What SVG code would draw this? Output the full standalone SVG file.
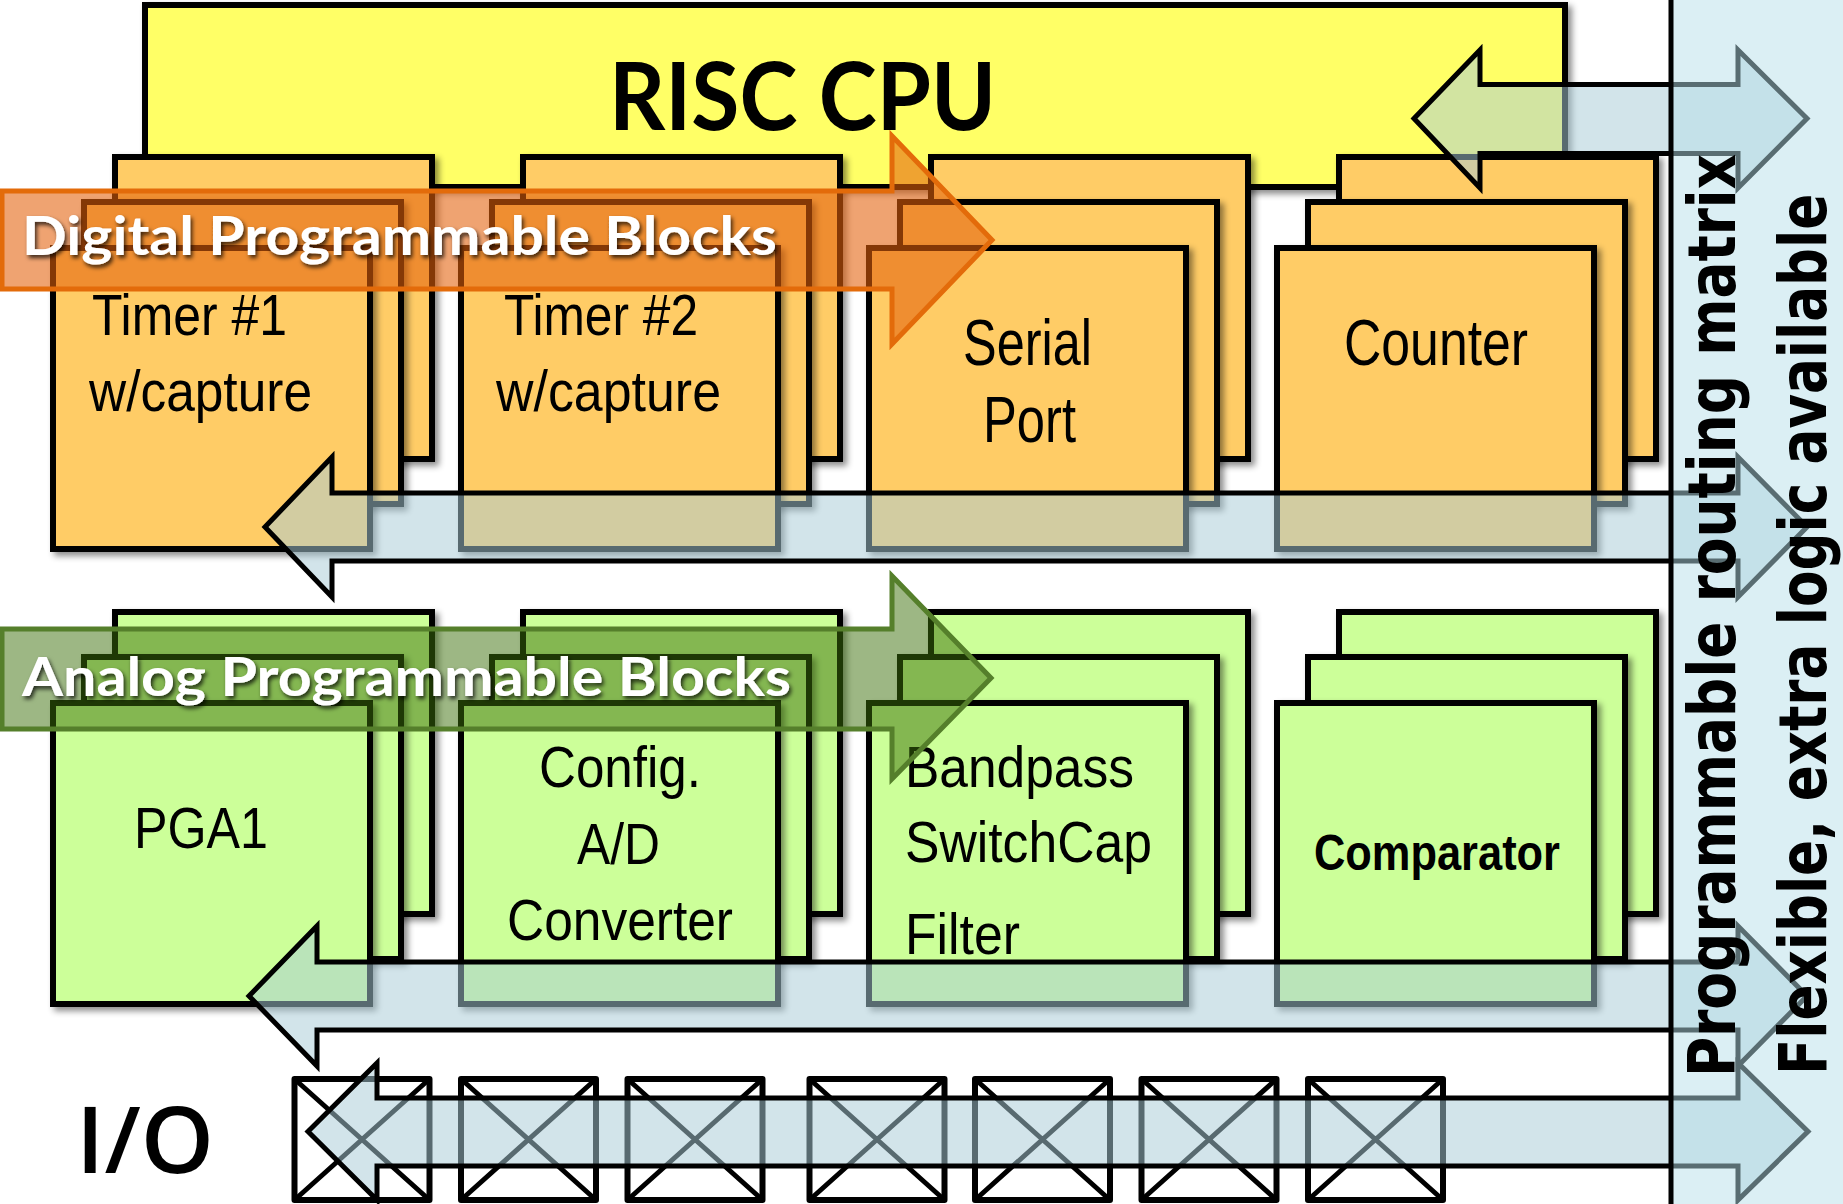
<svg xmlns="http://www.w3.org/2000/svg" width="1843" height="1204" viewBox="0 0 1843 1204">
<defs>
<filter id="sh" x="-10%" y="-10%" width="130%" height="130%">
<feDropShadow dx="4" dy="4" stdDeviation="3" flood-color="#000" flood-opacity="0.45"/>
</filter>
<filter id="tsh" x="-5%" y="-20%" width="110%" height="150%">
<feDropShadow dx="2" dy="3" stdDeviation="2" flood-color="#000" flood-opacity="0.75"/>
</filter>
</defs>
<style>
.blk{stroke:#000;stroke-width:6;filter:url(#sh)}
.dig{fill:#FFCC66}
.ana{fill:#CCFF99}
.cpu{fill:#FFFF66;stroke:#000;stroke-width:6;filter:url(#sh)}
.lbl{font-family:"Liberation Sans",Arial,sans-serif;fill:#000}
.ban{font-family:Lato,"Liberation Sans",sans-serif;font-weight:bold;font-size:54px;fill:#fff;filter:url(#tsh)}
.bus{fill:#A8CBD6;fill-opacity:0.52;stroke:#000;stroke-width:5}
.io{fill:none;stroke:#000;stroke-width:6;stroke-linejoin:round}
.iox{stroke:#000;stroke-width:5}
.vt{font-family:"DejaVu Sans",Verdana,sans-serif;font-weight:bold;font-size:65px;fill:#000}
</style>
<rect width="1843" height="1204" fill="#fff"/>

<g id="cpu">
<rect class="cpu" x="145" y="5" width="1420" height="182"/>
<text x="609" y="130" font-family="Lato,'Liberation Sans',sans-serif" font-size="94" font-weight="bold" fill="#000" textLength="387" lengthAdjust="spacingAndGlyphs">RISC CPU</text>
</g>

<g id="timer1">
<rect class="blk dig" x="115" y="157" width="317" height="302"/>
<rect class="blk dig" x="84" y="202" width="317" height="302"/>
<rect class="blk dig" x="53" y="248" width="317" height="301"/>
<text class="lbl" font-size="57" x="92" y="335" textLength="195" lengthAdjust="spacingAndGlyphs">Timer #1</text>
<text class="lbl" font-size="57" x="89" y="411" textLength="223" lengthAdjust="spacingAndGlyphs">w/capture</text>
</g>
<g id="timer2">
<rect class="blk dig" x="523" y="157" width="317" height="302"/>
<rect class="blk dig" x="492" y="202" width="317" height="302"/>
<rect class="blk dig" x="461" y="248" width="317" height="301"/>
<text class="lbl" font-size="57" x="504" y="335" textLength="194" lengthAdjust="spacingAndGlyphs">Timer #2</text>
<text class="lbl" font-size="57" x="496" y="411" textLength="225" lengthAdjust="spacingAndGlyphs">w/capture</text>
</g>
<g id="serial">
<rect class="blk dig" x="931" y="157" width="317" height="302"/>
<rect class="blk dig" x="900" y="202" width="317" height="302"/>
<rect class="blk dig" x="869" y="248" width="317" height="301"/>
<text class="lbl" font-size="64" x="963" y="365" textLength="129" lengthAdjust="spacingAndGlyphs">Serial</text>
<text class="lbl" font-size="64" x="983" y="442" textLength="93" lengthAdjust="spacingAndGlyphs">Port</text>
</g>
<g id="counter">
<rect class="blk dig" x="1339" y="157" width="317" height="302"/>
<rect class="blk dig" x="1308" y="202" width="317" height="302"/>
<rect class="blk dig" x="1277" y="248" width="317" height="301"/>
<text class="lbl" font-size="64" x="1344" y="365" textLength="184" lengthAdjust="spacingAndGlyphs">Counter</text>
</g>

<g id="digital-banner">
<path d="M2,191 L892,191 L892,136 L992,240 L892,344 L892,289 L2,289 Z" fill="#E4600A" fill-opacity="0.58" stroke="#E36B0A" stroke-width="5"/>
<text class="ban" x="22" y="255" textLength="755" lengthAdjust="spacingAndGlyphs">Digital Programmable Blocks</text>
</g>

<g id="pga1">
<rect class="blk ana" x="115" y="612" width="317" height="302"/>
<rect class="blk ana" x="84" y="657" width="317" height="302"/>
<rect class="blk ana" x="53" y="703" width="317" height="301"/>
<text class="lbl" font-size="58" x="134" y="848" textLength="134" lengthAdjust="spacingAndGlyphs">PGA1</text>
</g>
<g id="adc">
<rect class="blk ana" x="523" y="612" width="317" height="302"/>
<rect class="blk ana" x="492" y="657" width="317" height="302"/>
<rect class="blk ana" x="461" y="703" width="317" height="301"/>
<text class="lbl" font-size="58" x="539" y="787" textLength="162" lengthAdjust="spacingAndGlyphs">Config.</text>
<text class="lbl" font-size="58" x="577" y="864" textLength="83" lengthAdjust="spacingAndGlyphs">A/D</text>
<text class="lbl" font-size="58" x="507" y="940" textLength="226" lengthAdjust="spacingAndGlyphs">Converter</text>
</g>
<g id="filter">
<rect class="blk ana" x="931" y="612" width="317" height="302"/>
<rect class="blk ana" x="900" y="657" width="317" height="302"/>
<rect class="blk ana" x="869" y="703" width="317" height="301"/>
<text class="lbl" font-size="58" x="905" y="787" textLength="229" lengthAdjust="spacingAndGlyphs">Bandpass</text>
<text class="lbl" font-size="58" x="905" y="862" textLength="247" lengthAdjust="spacingAndGlyphs">SwitchCap</text>
<text class="lbl" font-size="58" x="905" y="954" textLength="115" lengthAdjust="spacingAndGlyphs">Filter</text>
</g>
<g id="comparator">
<rect class="blk ana" x="1339" y="612" width="317" height="302"/>
<rect class="blk ana" x="1308" y="657" width="317" height="302"/>
<rect class="blk ana" x="1277" y="703" width="317" height="301"/>
<text class="lbl" font-size="50" font-weight="bold" x="1314" y="870" textLength="246" lengthAdjust="spacingAndGlyphs">Comparator</text>
</g>

<g id="analog-banner">
<path d="M2,629 L892,629 L892,576 L991,678 L892,779 L892,729 L2,729 Z" fill="#3C700A" fill-opacity="0.5" stroke="#557F2B" stroke-width="5"/>
<text class="ban" x="22" y="696" textLength="769" lengthAdjust="spacingAndGlyphs">Analog Programmable Blocks</text>
</g>

<g id="io">
<text x="76" y="1173" font-family="'Open Sans','Liberation Sans',sans-serif" font-weight="600" font-size="92" fill="#000" textLength="138" lengthAdjust="spacingAndGlyphs">I/O</text>
<g id="io-pins">
<rect class="io" x="294.5" y="1079" width="135" height="121"/><path class="iox" d="M294.5,1079 L429.5,1200 M429.5,1079 L294.5,1200"/>
<rect class="io" x="461" y="1079" width="135" height="121"/><path class="iox" d="M461,1079 L596,1200 M596,1079 L461,1200"/>
<rect class="io" x="627.5" y="1079" width="135" height="121"/><path class="iox" d="M627.5,1079 L762.5,1200 M762.5,1079 L627.5,1200"/>
<rect class="io" x="809.5" y="1079" width="135" height="121"/><path class="iox" d="M809.5,1079 L944.5,1200 M944.5,1079 L809.5,1200"/>
<rect class="io" x="975" y="1079" width="135" height="121"/><path class="iox" d="M975,1079 L1110,1200 M1110,1079 L975,1200"/>
<rect class="io" x="1141.5" y="1079" width="135" height="121"/><path class="iox" d="M1141.5,1079 L1276.5,1200 M1276.5,1079 L1141.5,1200"/>
<rect class="io" x="1308" y="1079" width="135" height="121"/><path class="iox" d="M1308,1079 L1443,1200 M1443,1079 L1308,1200"/>
</g>
</g>

<g id="connectors">
<path class="bus" d="M1414,118.5 L1480,50 L1480,84.5 L1738,84.5 L1738,50 L1807,118.5 L1738,188 L1738,153.5 L1480,153.5 L1480,188 Z"/>
<path class="bus" d="M265,527 L332,457 L332,493 L1738,493 L1738,457 L1807,527 L1738,597 L1738,561 L332,561 L332,597 Z"/>
<path class="bus" d="M249,996 L317,926 L317,962 L1738,962 L1738,926 L1807,996 L1738,1066 L1738,1030 L317,1030 L317,1066 Z"/>
<path class="bus" d="M308,1131.5 L377,1063 L377,1098 L1738,1098 L1738,1063 L1808,1131.5 L1738,1200 L1738,1166 L377,1166 L377,1200 Z"/>
</g>

<g id="routing-matrix">
<rect x="1671" y="0" width="172" height="1204" fill="#B6DFE9" fill-opacity="0.49"/>
<line x1="1671" y1="0" x2="1671" y2="1204" stroke="#000" stroke-width="5"/>
<text class="vt" transform="translate(1735,1077) rotate(-90) scale(0.85,1)" textLength="1086" lengthAdjust="spacingAndGlyphs">Programmable routing matrix</text>
<text class="vt" transform="translate(1826,1075) rotate(-90) scale(0.81,1)" textLength="1088" lengthAdjust="spacingAndGlyphs">Flexible, extra logic available</text>
</g>
</svg>
